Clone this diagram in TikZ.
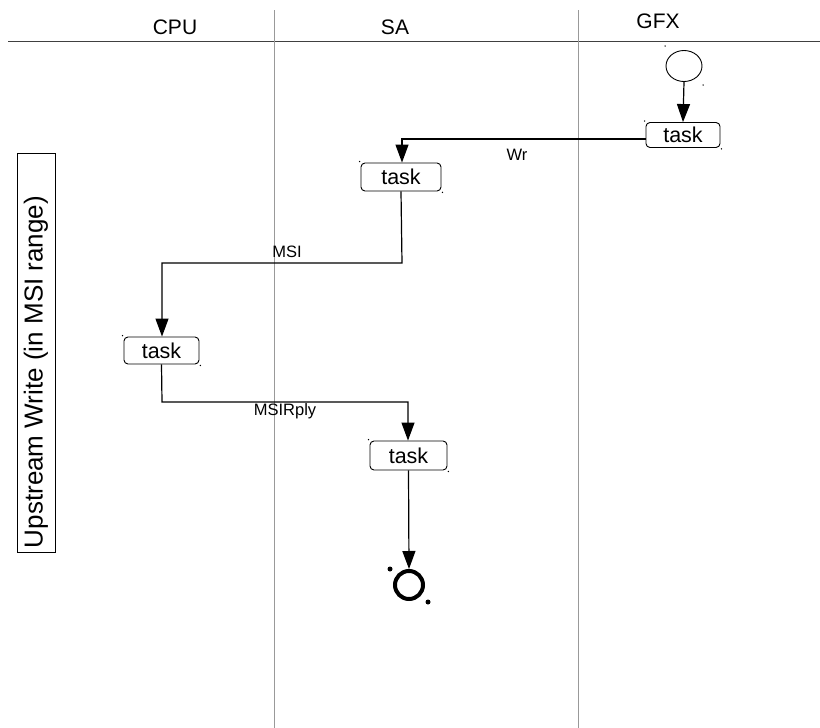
\documentclass[tikz,border=0pt]{standalone}
\usepackage{fontspec}
\setmainfont{Liberation Sans}
\usetikzlibrary{arrows.meta,shapes.geometric}
\begin{document}
\begin{tikzpicture}[x=1pt,y=-1pt,
  lane/.style={draw=black!40,line width=0.6pt},
  head/.style={font=\fontsize{21}{23}\selectfont},
  taskbox/.style={draw,line width=0.9pt,rounded corners=4pt,minimum width=76pt,minimum height=27pt,inner sep=0pt,font=\fontsize{21.5}{23}\selectfont},
  flow/.style={line width=1.2pt,-{Triangle[length=18pt,width=13pt]}},
  lbl/.style={font=\fontsize{16.5}{18}\selectfont,inner sep=1pt},
  speck/.style={fill=black,circle,inner sep=0pt,minimum size=2pt}]
\useasboundingbox (0,0) rectangle (820,728);
% lanes
\coordinate (h1) at (8,41); \coordinate (h2) at (820,41);
\draw[draw=black!75,line width=1pt] (h1) -- (h2);
\coordinate (v1a) at (274,10); \coordinate (v1b) at (274,728);
\coordinate (v2a) at (578,10); \coordinate (v2b) at (578,728);
\draw[lane] (v1a) -- (v1b);
\draw[lane] (v2a) -- (v2b);
\node[head] (cpu) at (175,27) {CPU};
\node[head] (sa) at (395,27) {SA};
\node[head] (gfx) at (658,21) {GFX};
% side label
\node[draw,line width=0.6pt,rotate=90,minimum width=399pt,minimum height=38pt,inner sep=0pt] (side) at (36,352.5) {};
\node[rotate=90,inner sep=0pt,font=\fontsize{26}{28}\selectfont] (sidetext) at (36,372) {Upstream Write (in MSI range)};
% start
\node[draw,ellipse,line width=0.9pt,minimum width=36pt,minimum height=31pt,inner sep=0pt] (start) at (684,66) {};
\node[speck,minimum size=1.5pt] (s1) at (665,46) {};
\node[speck,minimum size=1.5pt] (s2) at (703,85) {};
% tasks
\node[taskbox,minimum width=74pt,minimum height=25pt] (t1) at (683,135) {task};
\node[taskbox,minimum width=80pt,minimum height=28pt] (t2) at (401,177) {task};
\node[taskbox,minimum width=75pt,minimum height=27pt] (t3) at (161.5,350.5) {task};
\node[taskbox,minimum width=77pt,minimum height=29pt] (t4) at (408.5,455.5) {task};
\foreach \n in {t1,t2,t3,t4}{
  \node[speck,minimum size=1.5pt] at ([shift={(-1,-1)}]\n.north west) {};
  \node[speck,minimum size=1.5pt] at ([shift={(1,1)}]\n.south east) {};
}
% end
\node[draw,ellipse,line width=4pt,minimum width=28pt,minimum height=28pt,inner sep=0pt] (end) at (409,585) {};
\node[speck,minimum size=5pt] (e1) at (390,569) {};
\node[speck,minimum size=5pt] (e2) at (428,602) {};
% connectors
\draw[flow] (start.south) -- (t1.north);
\draw[flow] (t1.west |- 0,139) -| (402,0 |- t2.north);
\node[lbl] (wr) at (517,155) {Wr};
\draw[flow] (t2.south) -- (402,263) -| (162,0 |- t3.north);
\node[lbl] (msi) at (287,252) {MSI};
\draw[flow] (t3.south) -- (162,402) -| (408,0 |- t4.north);
\node[lbl] (msirply) at (285,411) {MSIRply};
\draw[flow] (t4.south) -- (end.north);
\end{tikzpicture}
\end{document}
